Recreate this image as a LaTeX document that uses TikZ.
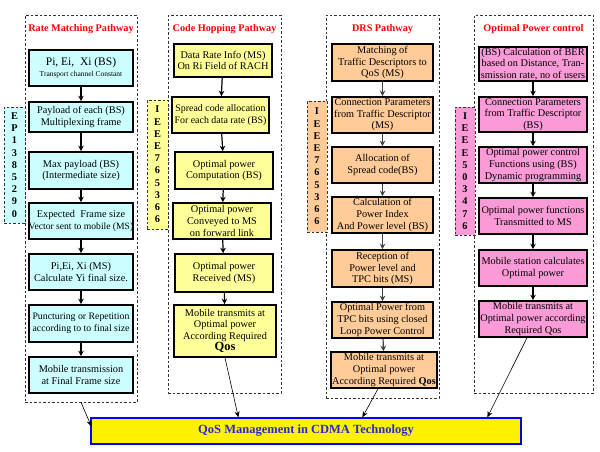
\documentclass[tikz,border=0pt]{standalone}
\usepackage{fontspec}
\setmainfont{Liberation Serif}
\usetikzlibrary{arrows.meta,calc}
\definecolor{cyanfill}{RGB}{204,255,255}
\definecolor{yellowfill}{RGB}{255,255,153}
\definecolor{orangefill}{RGB}{255,204,153}
\definecolor{pinkfill}{RGB}{250,155,215}
\definecolor{qosblue}{RGB}{40,40,210}
\begin{document}
\begin{tikzpicture}[x=1pt,y=-1pt,
  stepbox/.style={draw=black, line width=1.6pt, inner sep=0pt, align=center,
    font=\fontsize{10.3}{11.6}\selectfont, text=black},
  panel/.style={draw=black!80, line width=0.6pt, dash pattern=on 2.5pt off 2pt, inner sep=0pt},
  sidebox/.style={draw=black!80, line width=0.6pt, dash pattern=on 2.5pt off 2pt, inner sep=0pt,
    align=center, font=\bfseries\fontsize{10.3}{12.2}\selectfont},
  flow/.style={-{Stealth[length=5.5pt,width=5.5pt]}, line width=1.2pt},
  outflow/.style={-{Stealth[length=6pt,width=5pt]}, line width=0.6pt},
  ptitle/.style={text=red, font=\bfseries\fontsize{10.2}{12}\selectfont}]
\useasboundingbox (0,0) rectangle (600,451);
\fill[white] (0,0) rectangle (600,451);
% panels
\node[panel, minimum width=112, minimum height=387] (p1) at (81,208.5) {};
\node[panel, minimum width=113, minimum height=378] (p2) at (224.5,204) {};
\node[panel, minimum width=113, minimum height=383] (p3) at (382.5,206.5) {};
\node[panel, minimum width=119, minimum height=378] (p4) at (533.5,204) {};
% titles
\node[ptitle] (t1) at (81,29) {Rate Matching Pathway};
\node[ptitle] (t2) at (224.5,29) {Code Hopping Pathway};
\node[ptitle] (t3) at (382.5,29) {DRS Pathway};
\node[ptitle] (t4) at (533.5,29) {Optimal Power control};
% side labels
\node[sidebox, fill=cyanfill, minimum width=21, minimum height=116] (s1) at (14.5,165) {E\\P\\1\\3\\8\\5\\2\\9\\0};
\node[sidebox, fill=yellowfill, minimum width=21, minimum height=129] (s2) at (157.5,164.5) {I\\E\\E\\E\\7\\6\\5\\3\\6\\6};
\node[sidebox, fill=orangefill, minimum width=20, minimum height=131] (s3) at (317,166.5) {I\\E\\E\\E\\7\\6\\5\\3\\6\\6};
\node[sidebox, fill=pinkfill, minimum width=20, minimum height=128] (s4) at (465,171) {I\\E\\E\\E\\5\\0\\3\\4\\7\\6};
% panel 1
\node[stepbox, fill=cyanfill, minimum width=104, minimum height=36] (a1) at (81,68) {{\fontsize{11.5}{13}\selectfont Pi, Ei,\ \ Xi (BS)}\\{\fontsize{7.5}{9}\selectfont Transport channel Constant}};
\node[stepbox, fill=cyanfill, minimum width=104, minimum height=30] (a2) at (81,117) {Payload of each (BS)\\Multiplexing frame};
\node[stepbox, fill=cyanfill, minimum width=104, minimum height=37] (a3) at (81,170.5) {Max payload (BS)\\(Intermediate size)};
\node[stepbox, fill=cyanfill, minimum width=104, minimum height=36] (a4) at (81,221) {Expected\ \ Frame size\\{\fontsize{9.6}{11.6}\selectfont Vector sent to mobile (MS)}};
\node[stepbox, fill=cyanfill, minimum width=104, minimum height=36] (a5) at (81,272) {Pi,Ei, Xi (MS)\\Calculate Yi final size.};
\node[stepbox, fill=cyanfill, minimum width=104, minimum height=37] (a6) at (81,323.5) {{\fontsize{9.8}{11.6}\selectfont Puncturing or Repetition}\\{\fontsize{9.8}{11.6}\selectfont according to to final size}};
\node[stepbox, fill=cyanfill, minimum width=104, minimum height=36] (a7) at (81,375) {Mobile transmission\\at Final Frame size};
\foreach \u/\v in {a1/a2,a2/a3,a3/a4,a4/a5,a5/a6,a6/a7} \draw[flow] (\u) -- (\v);
% panel 2
\node[stepbox, fill=yellowfill, minimum width=98, minimum height=33] (b1) at (223,60.5) {Data Rate Info (MS)\\On Ri Field of RACH};
\node[stepbox, fill=yellowfill, minimum width=97, minimum height=36] (b2) at (220.5,115) {{\fontsize{9.9}{11.6}\selectfont Spread code\ allocation}\\{\fontsize{9.9}{11.6}\selectfont For each data rate (BS)}};
\node[stepbox, fill=yellowfill, minimum width=98, minimum height=37] (b3) at (224,170.5) {Optimal power\\Computation (BS)};
\node[stepbox, fill=yellowfill, minimum width=98, minimum height=36] (b4) at (222,221) {Optimal power\\Conveyed to MS\\on forward link};
\node[stepbox, fill=yellowfill, minimum width=98, minimum height=38] (b5) at (224,273) {Optimal power\\Received (MS)};
\node[stepbox, fill=yellowfill, minimum width=102, minimum height=52] (b6) at (225,331) {Mobile transmits at\\Optimal power\\According Required\\{\fontsize{12.5}{14}\selectfont\bfseries Qos}};
\draw[flow] (b1) -- (b2);
\draw[flow] (b2) -- (b3);
\draw[flow] (b3) -- (b4);
\draw[flow] (b4) -- (b5);
\draw[flow] (b5) -- (b6);
% panel 3
\node[stepbox, fill=orangefill, minimum width=101, minimum height=37] (c1) at (382.5,62.5) {Matching of\\Traffic Descriptors to\\QoS (MS)};
\node[stepbox, fill=orangefill, minimum width=101, minimum height=36] (c2) at (382.5,115) {Connection Parameters\\from Traffic Descriptor\\(MS)};
\node[stepbox, fill=orangefill, minimum width=101, minimum height=36] (c3) at (382.5,165) {Allocation of\\Spread code(BS)};
\node[stepbox, fill=orangefill, minimum width=101, minimum height=36] (c4) at (382.5,215) {Calculation of\\Power Index\\And Power level (BS)};
\node[stepbox, fill=orangefill, minimum width=101, minimum height=37] (c5) at (382.5,268.5) {Reception of\\Power level and\\TPC bits (MS)};
\node[stepbox, fill=orangefill, minimum width=101, minimum height=36] (c6) at (382.5,320) {Optimal Power from\\TPC bits using closed\\Loop Power Control};
\node[stepbox, fill=orangefill, minimum width=106, minimum height=36] (c7) at (384,370) {Mobile transmits at\\Optimal power\\According Required \textbf{Qos}};
\foreach \u/\v in {c1/c2,c2/c3,c3/c4,c4/c5,c5/c6,c6/c7} \draw[flow, black!75] (\u) -- (\v);
% panel 4
\node[stepbox, fill=pinkfill, minimum width=108, minimum height=34] (d1) at (533,64) {(BS) Calculation of BER\\based on Distance, Tran-\\smission rate, no of users};
\node[stepbox, fill=pinkfill, minimum width=108, minimum height=35] (d2) at (533,114.5) {Connection Parameters\\from Traffic Descriptor\\(BS)};
\node[stepbox, fill=pinkfill, minimum width=108, minimum height=36] (d3) at (533,165) {Optimal power control\\Functions using (BS)\\Dynamic programming};
\node[stepbox, fill=pinkfill, minimum width=108, minimum height=36] (d4) at (533,216) {Optimal power functions\\Transmitted to MS};
\node[stepbox, fill=pinkfill, minimum width=108, minimum height=36] (d5) at (533,268) {Mobile station calculates\\Optimal power};
\node[stepbox, fill=pinkfill, minimum width=108, minimum height=36] (d6) at (533,319) {Mobile transmits at\\Optimal power according\\Required Qos};
\foreach \u/\v in {d1/d2,d2/d3,d3/d4,d4/d5,d5/d6} \draw[flow] (\u) -- (\v);
% QoS box
\node[draw=blue, line width=1.3pt, fill=yellow, minimum width=430, minimum height=26, inner sep=0pt,
  text=qosblue, font=\bfseries\fontsize{12.5}{14}\selectfont] (q) at (306,431) {QoS Management in CDMA Technology};
\coordinate (e1) at ($(q.north west)+(1,9)$);
\coordinate (e2) at ($(q.north west)+(148,0)$);
\coordinate (e3) at ($(q.north west)+(272,0)$);
\coordinate (e4) at ($(q.north west)+(397,0)$);
\draw[outflow] (p1.south) -- (e1);
\draw[outflow] (b6.south) -- (e2);
\draw[outflow] ($(c7.south)+(-6,0)$) -- (e3);
\draw[outflow] ($(d6.south)+(-6,0)$) -- (e4);
\end{tikzpicture}
\end{document}
